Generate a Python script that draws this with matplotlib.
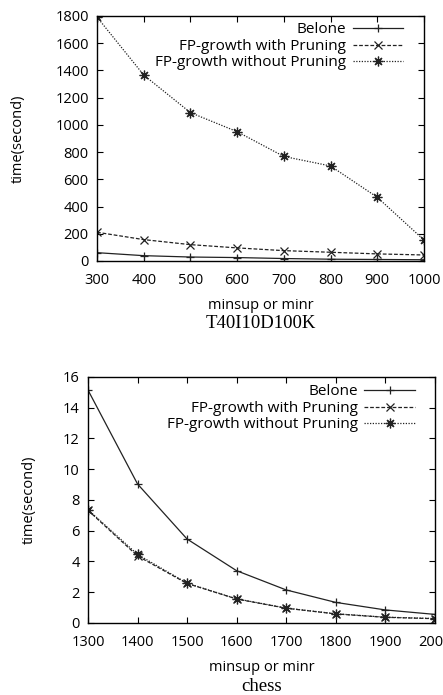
import matplotlib
matplotlib.use("Agg")
import matplotlib.pyplot as plt

# T40I10D100K
x_top = [300, 400, 500, 600, 700, 800, 900, 1000]
belone_top = [61, 39, 29, 25, 18, 13, 11, 9]
with_top = [211, 157, 120, 96, 76, 64, 52, 44]
without_top = [1792, 1366, 1090, 950, 768, 698, 468, 154]

# chess
x_bot = [1300, 1400, 1500, 1600, 1700, 1800, 1900, 2000]
belone_bot = [15.15, 9.04, 5.46, 3.40, 2.15, 1.34, 0.85, 0.56]
with_bot = [7.33, 4.36, 2.57, 1.56, 0.96, 0.59, 0.37, 0.28]
without_bot = [7.37, 4.46, 2.59, 1.57, 0.97, 0.60, 0.38, 0.29]

names = ["Belone", "FP-growth with Pruning", "FP-growth without Pruning"]

plt.rcParams["font.family"] = ["Open Sans", "DejaVu Sans"]
plt.rcParams["font.size"] = 10.5

fig = plt.figure(figsize=(4.43, 6.95), dpi=100)
ax1 = fig.add_axes([0.219, 0.6245, 0.738, 0.3525])
ax2 = fig.add_axes([0.1986, 0.1036, 0.783, 0.354])

def draw(ax, x, b, w, wo, leg_anchor):
    c = "#222222"
    ax.plot(x, b, "-", color=c, lw=0.9, marker="+", ms=6, mew=0.9, label=names[0])
    ax.plot(x, w, color=c, lw=0.9, ls=(0, (3, 1.5)), marker="x", ms=5.5, mew=0.9, label=names[1])
    ax.plot(x, wo, color=c, lw=0.9, ls=(0, (1, 1.2)), marker=(8, 2, 0), ms=7, mew=0.9, label=names[2])
    ax.tick_params(direction="in", top=True, right=True, length=4, width=0.8)
    ax.tick_params(axis="x", pad=8.5)
    ax.tick_params(axis="y", pad=6)
    for s in ax.spines.values():
        s.set_linewidth(1.0)
    ax.set_xlabel("minsup or minr", labelpad=7, fontsize=10.5)
    ax.set_ylabel("time(second)", fontsize=10.5)
    ax.legend(loc="upper right", bbox_to_anchor=leg_anchor, markerfirst=False, frameon=False,
              handlelength=3.3, handletextpad=0.4, labelspacing=0.1, borderaxespad=0,
              borderpad=0, fontsize=11)

draw(ax1, x_top, belone_top, with_top, without_top, (0.936, 0.974))
ax1.set_xlim(300, 1000)
ax1.set_ylim(0, 1800)
ax1.set_xticks(x_top)
ax1.set_yticks(range(0, 1801, 200))
ax1.yaxis.set_label_coords(-0.217, 0.5)

draw(ax2, x_bot, belone_bot, with_bot, without_bot, (0.942, 0.97))
ax2.set_xlim(1300, 2000)
ax2.set_ylim(0, 16)
ax2.set_xticks(x_bot)
ax2.set_yticks(range(0, 17, 2))
ax2.yaxis.set_label_coords(-0.147, 0.5)

ax1.text(0.5, -(324 - 261) / 245, "T40I10D100K", transform=ax1.transAxes, ha="center",
         va="center", family="Liberation Serif", fontsize=13.5)
ax2.text(0.5, -(686 - 623) / 246, "chess", transform=ax2.transAxes, ha="center",
         va="center", family="Liberation Serif", fontsize=13.5)

fig.savefig("out.png", dpi=100)
